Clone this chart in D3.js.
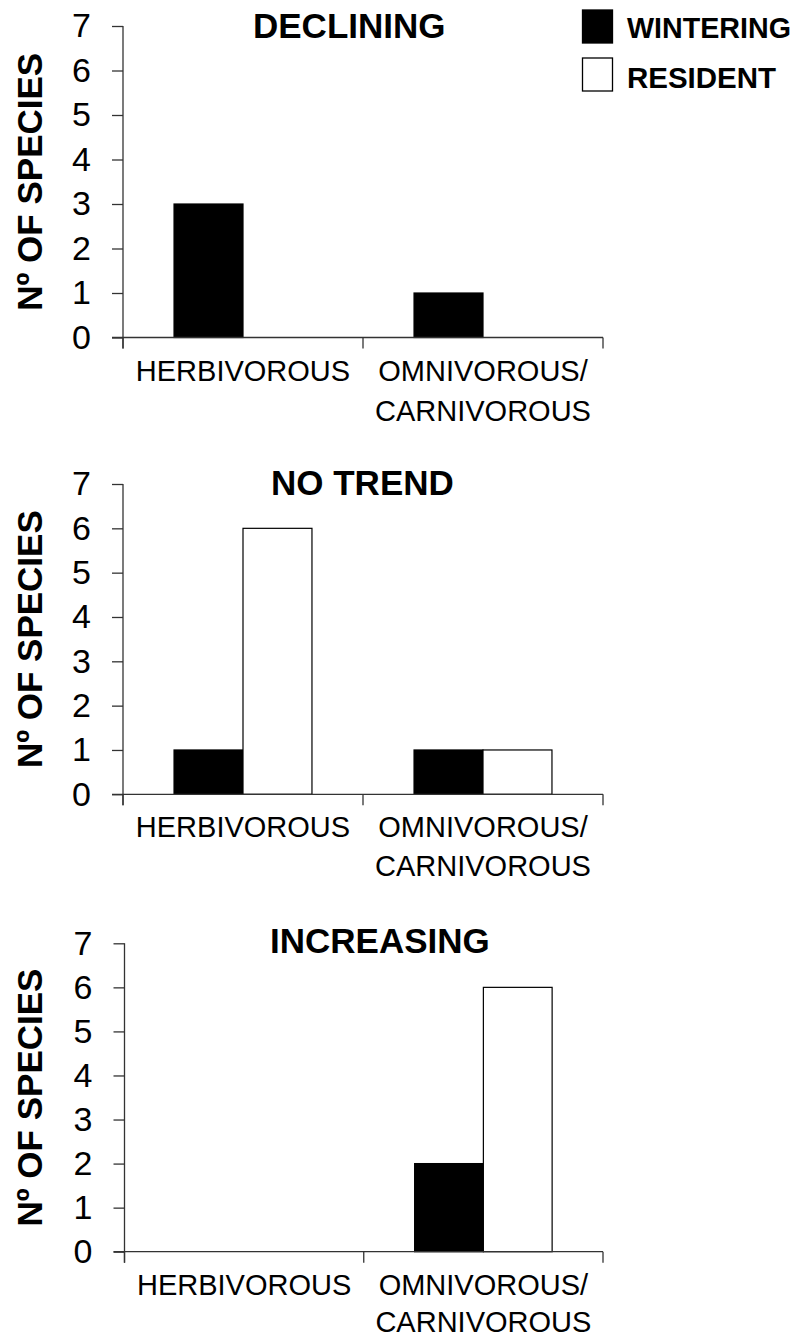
<!DOCTYPE html>
<html>
<head>
<meta charset="utf-8">
<script src="https://cdn.jsdelivr.net/npm/d3@7"></script>
<style>
  html, body { margin: 0; padding: 0; background: #fff; }
  svg { display: block; font-family: "Liberation Sans", Arial, sans-serif; }
</style>
</head>
<body>
<svg id="chart" width="801" height="1337"></svg>
<script>
// ---- data ----
const categories = ["HERBIVOROUS", "OMNIVOROUS/\nCARNIVOROUS"];
const series = ["WINTERING", "RESIDENT"];
const panelTitles = ["DECLINING", "NO TREND", "INCREASING"];
const winteringValues = [[3, 1], [1, 1], [0, 2]];
const residentValues = [[0, 0], [6, 1], [0, 6]];
const yTicks = [0, 1, 2, 3, 4, 5, 6, 7];
const yAxisTitle = "Nº OF SPECIES";
const seriesFill = ["#000000", "#ffffff"];

// ---- layout ----
const panelTop = [26, 484, 943.3];
const panelBottom = [337.5, 794.3, 1251.7];
const panelLeft = [123, 123, 124.5];
const plotRight = 603;
const titleX = [253, 271, 270];
const titleBaseline = [38, 494.5, 953];
const catLineGap = [40, 39, 37];

const svg = d3.select("#chart");

panelTitles.forEach((title, p) => {
  const g = svg.append("g");
  const y = d3.scaleLinear().domain([0, 7]).range([panelBottom[p], panelTop[p]]);
  const x = d3.scaleBand().domain(categories).range([panelLeft[p], plotRight]).paddingInner(0).paddingOuter(0);
  const xs = d3.scaleBand().domain(series).range([0, x.bandwidth()]).paddingInner(0).paddingOuter(0.74);

  const rows = [];
  categories.forEach((c, i) => {
    rows.push({ cat: c, s: series[0], v: winteringValues[p][i], fill: seriesFill[0] });
    rows.push({ cat: c, s: series[1], v: residentValues[p][i], fill: seriesFill[1] });
  });

  // bars
  g.selectAll("rect.bar").data(rows.filter(d => d.v > 0)).join("rect")
    .attr("class", "bar")
    .attr("x", d => x(d.cat) + xs(d.s))
    .attr("y", d => y(d.v))
    .attr("width", xs.bandwidth())
    .attr("height", d => y(0) - y(d.v))
    .attr("fill", d => d.fill)
    .attr("stroke", "#000")
    .attr("stroke-width", 1.2);

  // y axis
  const yAxis = d3.axisLeft(y).tickValues(yTicks).tickSize(11).tickPadding(21).tickFormat(d3.format("d"));
  const ya = g.append("g").attr("transform", `translate(${panelLeft[p]},0)`).call(yAxis);
  ya.attr("font-size", 34).attr("font-family", "Liberation Sans, Arial, sans-serif");
  ya.select(".domain").attr("stroke", "#333").attr("stroke-width", 1.3)
    .attr("d", `M0,${panelTop[p]}V${panelBottom[p] + 11}`);
  ya.selectAll(".tick line").attr("stroke", "#333").attr("stroke-width", 1.3);
  ya.selectAll(".tick text").attr("font-size", 34).attr("fill", "#000");

  // x axis
  const xa = g.append("g").attr("transform", `translate(0,${panelBottom[p]})`);
  xa.append("path").attr("fill", "none").attr("stroke", "#333").attr("stroke-width", 1.3)
    .attr("d", `M${panelLeft[p] - 11},0H${plotRight}`);
  const boundaries = categories.map(c => x(c)).concat([x.range()[1]]);
  xa.selectAll("line.ctick").data(boundaries).join("line")
    .attr("class", "ctick")
    .attr("x1", d => d).attr("x2", d => d)
    .attr("y1", 0).attr("y2", 11)
    .attr("stroke", "#333").attr("stroke-width", 1.3);
  categories.forEach(c => {
    const lines = c.split("\n");
    const t = xa.append("text")
      .attr("text-anchor", "middle")
      .attr("font-size", 29)
      .attr("fill", "#000");
    lines.forEach((ln, k) => {
      t.append("tspan")
        .attr("x", x(c) + x.bandwidth() / 2)
        .attr("y", 43 + k * catLineGap[p])
        .text(ln);
    });
  });

  // panel title
  g.append("text")
    .attr("x", titleX[p])
    .attr("y", titleBaseline[p])
    .attr("font-size", 35)
    .attr("font-weight", "bold")
    .attr("fill", "#000")
    .text(title);

  // y axis title
  g.append("text")
    .attr("transform", `translate(42,${(panelTop[p] + panelBottom[p]) / 2}) rotate(-90)`)
    .attr("text-anchor", "middle")
    .attr("font-size", 35)
    .attr("font-weight", "bold")
    .attr("fill", "#000")
    .text(yAxisTitle);
});

// legend
const legend = svg.append("g");
const legendY = [10, 58];
const legendBaseline = [38, 88];
const legendTextLen = [164, 149];
series.forEach((s, i) => {
  legend.append("rect")
    .attr("x", 582.5).attr("y", legendY[i])
    .attr("width", 30).attr("height", 33)
    .attr("fill", seriesFill[i])
    .attr("stroke", "#000").attr("stroke-width", 1.3);
  legend.append("text")
    .attr("x", 627).attr("y", legendBaseline[i])
    .attr("font-size", 30).attr("font-weight", "bold").attr("fill", "#000")
    .attr("textLength", legendTextLen[i]).attr("lengthAdjust", "spacingAndGlyphs")
    .text(s);
});
</script>
</body>
</html>
